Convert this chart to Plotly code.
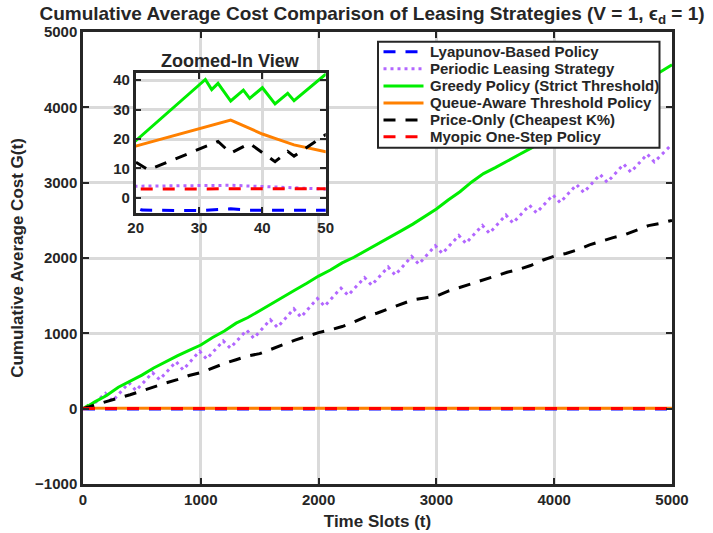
import plotly.graph_objects as go

# ---------------- data ----------------
# Lyapunov-Based Policy
lyap_t = [0, 20, 21, 25, 30, 33, 35, 38, 40, 45, 50, 100, 1000, 2000, 3000, 4000, 5000]
lyap_v = [0, -3.2, -4.1, -4.3, -4.3, -3.9, -3.7, -4.2, -4.3, -4.6, -4.9, -5, -5, -5, -5, -5, -5]

# Periodic Leasing Strategy
per_t = [0, 20, 25, 35, 40, 45, 50, 190, 250, 390, 450, 590, 650, 790, 850, 990, 1050,
         1190, 1250, 1390, 1450, 1590, 1650, 1790, 1850, 1990, 2050, 2190, 2250, 2390, 2450,
         2590, 2650, 2790, 2850, 2990, 3050, 3190, 3250, 3390, 3450, 3590, 3650, 3790, 3850,
         3990, 4050, 4190, 4250, 4390, 4450, 4590, 4650, 4790, 4850, 5000]
per_v = [0, 4.0, 4.1, 4.3, 3.9, 3.4, 3.0, 203, 100, 343, 240, 478, 385, 623, 515, 763, 660,
         900, 805, 1043, 935, 1180, 1080, 1325, 1215, 1463, 1360, 1600, 1505, 1740, 1640,
         1880, 1775, 2020, 1920, 2163, 2060, 2298, 2195, 2433, 2330, 2570, 2465, 2700, 2600,
         2838, 2735, 2975, 2870, 3108, 3005, 3245, 3140, 3378, 3275, 3510]

# Greedy Policy (Strict Threshold)
greedy_t = [0, 20, 31, 32, 33, 35, 37, 38, 40, 42, 44, 45, 50,
            100, 200, 300, 400, 500, 600, 700, 800, 900, 1000,
            1100, 1200, 1300, 1400, 1500, 1600, 1700, 1800, 1900, 2000,
            2100, 2200, 2300, 2400, 2500, 2600, 2700, 2800, 2900, 3000,
            3100, 3200, 3300, 3400, 3500, 3600, 3700, 3800, 3900, 4000,
            4100, 4200, 4300, 4400, 4500, 4600, 4700, 4800, 4900, 5000]
greedy_v = [0, 19.4, 40.2, 36.8, 38.9, 32.9, 36.6, 33.8, 37.4, 31.9, 35.5, 33.0, 42.0,
            90, 175, 285, 360, 445, 540, 625, 700, 775, 845,
            945, 1030, 1135, 1210, 1300, 1395, 1480, 1575, 1665, 1760,
            1840, 1935, 2010, 2095, 2180, 2270, 2360, 2450, 2545, 2650,
            2770, 2880, 3010, 3120, 3200, 3290, 3370, 3455, 3550, 3640,
            3730, 3830, 3920, 4010, 4100, 4200, 4290, 4380, 4470, 4565]

# Queue-Aware Threshold Policy
queue_t = [0, 20, 35, 38, 40, 42, 45, 50, 100, 500, 1000, 2000, 3000, 4000, 5000]
queue_v = [0, 17.6, 26.4, 23.6, 21.7, 20.2, 18.0, 15.7, 10, 6, 5, 5, 5, 5, 5]

# Price-Only (Cheapest K%)
price_t = [0, 20, 22, 33, 35, 38, 42, 44, 45, 50,
           100, 200, 300, 400, 500, 600, 700, 800, 900, 1000,
           1100, 1200, 1300, 1400, 1500, 1600, 1700, 1800, 1900, 2000,
           2100, 2200, 2300, 2400, 2500, 2600, 2700, 2800, 2900, 3000,
           3100, 3200, 3300, 3400, 3500, 3600, 3700, 3800, 3900, 4000,
           4100, 4200, 4300, 4400, 4500, 4600, 4700, 4800, 4900, 5000]
price_v = [0, 12.2, 9.5, 19.2, 15.2, 18.5, 12.3, 15.8, 14.2, 21.5,
           50, 100, 140, 185, 240, 290, 340, 385, 440, 480,
           545, 600, 650, 700, 730, 790, 860, 910, 960, 1010,
           1045, 1090, 1150, 1220, 1270, 1330, 1390, 1445, 1470, 1495,
           1560, 1610, 1660, 1715, 1770, 1810, 1850, 1900, 1970, 2025,
           2060, 2110, 2175, 2225, 2270, 2310, 2370, 2430, 2460, 2500]

# Myopic One-Step Policy
myopic_t = [0, 20, 35, 50, 100, 1000, 2000, 3000, 4000, 5000]
myopic_v = [0, 3.0, 3.1, 2.8, 2.5, 2.2, 2.0, 2.0, 2.0, 2.0]

names = ["Lyapunov-Based Policy", "Periodic Leasing Strategy", "Greedy Policy (Strict Threshold)",
         "Queue-Aware Threshold Policy", "Price-Only (Cheapest K%)", "Myopic One-Step Policy"]

x_ticks = [0, 1000, 2000, 3000, 4000, 5000]
y_ticks = [-1000, 0, 1000, 2000, 3000, 4000, 5000]
inset_x_ticks = [20, 30, 40, 50]
inset_y_ticks = [0, 10, 20, 30, 40]

# ---------------- styling ----------------
W, H = 713, 533
ML, MR, MT, MB = 83, 41, 32, 49
PW, PH = W - ML - MR, H - MT - MB


def px2x(px):
    return (px - ML) / PW


def px2y(py):
    return (H - MB - py) / PH


styles = [
    dict(color="#0000FF", width=3, dash="12px,10px"),
    dict(color="#B266FF", width=3, dash="3px,4px"),
    dict(color="#00EE00", width=3),
    dict(color="#FF8000", width=3),
    dict(color="#000000", width=3, dash="12px,10px"),
    dict(color="#FF0000", width=3, dash="12px,10px"),
]
data = [(lyap_t, lyap_v), (per_t, per_v), (greedy_t, greedy_v),
        (queue_t, queue_v), (price_t, price_v), (myopic_t, myopic_v)]

fig = go.Figure()
for (t, v), ln, nm in zip(data, styles, names):
    fig.add_trace(go.Scatter(x=t, y=v, mode="lines", name=nm, line=ln,
                             xaxis="x", yaxis="y", showlegend=False))
for (t, v), ln, nm in zip(data, styles, names):
    fig.add_trace(go.Scatter(x=t, y=v, mode="lines", name=nm, line=ln,
                             xaxis="x2", yaxis="y2", showlegend=False))

FONT = "Liberation Sans"
TXT = "#262626"
GRID = "#DADADA"

axis_common = dict(
    showgrid=True, gridcolor=GRID, gridwidth=2.5,
    showline=True, linecolor=TXT, linewidth=2.5, mirror="allticks",
    ticks="inside", ticklen=6, tickwidth=2, tickcolor=TXT,
    zeroline=False, automargin=False,
    tickfont=dict(family=FONT, size=15, color=TXT, weight="bold"),
)

# ---- hand-built legend (box, line samples, labels) ----
shapes = [dict(type="rect", xref="paper", yref="paper", layer="above",
               x0=px2x(378), x1=px2x(659.5), y0=px2y(147.7), y1=px2y(41.7),
               fillcolor="white", line=dict(color=TXT, width=2))]
annotations = []
row_py = [51.7, 68.8, 85.9, 103.0, 120.0, 136.8]
for ln, nm, py in zip(styles, names, row_py):
    shapes.append(dict(type="line", xref="paper", yref="paper", layer="above",
                       x0=px2x(383.5), x1=px2x(423.5), y0=px2y(py), y1=px2y(py),
                       line=dict(color=ln["color"], width=ln["width"], dash=ln.get("dash", "solid"))))
    annotations.append(dict(text=nm, xref="paper", yref="paper", x=px2x(428.3), y=px2y(py),
                            xanchor="left", yanchor="middle", showarrow=False,
                            font=dict(family=FONT, size=15, color=TXT, weight="bold")))

annotations.append(dict(
    text="Zoomed-In View", xref="paper", yref="paper",
    x=0.2508, y=px2y(61), xanchor="center", yanchor="middle",
    showarrow=False, font=dict(family=FONT, size=18, color=TXT, weight="bold"),
))

fig.update_layout(
    width=W, height=H,
    margin=dict(l=ML, r=MR, t=MT, b=MB),
    paper_bgcolor="white", plot_bgcolor="white",
    font=dict(family=FONT, color=TXT),
    title=dict(
        text="Cumulative Average Cost Comparison of Leasing Strategies (V = 1, ϵ<sub>d</sub> = 1)",
        font=dict(family=FONT, size=19, color=TXT, weight="bold"),
        x=px2x(372), xref="paper", xanchor="center",
        y=1 - 13 / H, yref="container", yanchor="middle",
    ),
    xaxis=dict(domain=[0, 1], range=[0, 5000], tickvals=x_ticks,
               title=dict(text="Time Slots (t)", standoff=9,
                          font=dict(family=FONT, size=17, color=TXT, weight="bold")),
               **axis_common),
    yaxis=dict(domain=[0, 1], range=[-1000, 5000], tickvals=y_ticks,
               title=dict(text="Cumulative Average Cost G(t)", standoff=8,
                          font=dict(family=FONT, size=17, color=TXT, weight="bold")),
               **axis_common),
    xaxis2=dict(domain=[px2x(135.7), px2x(325.7)], anchor="y2", range=[20, 50],
                tickvals=inset_x_ticks, **axis_common),
    yaxis2=dict(domain=[px2y(212.7), px2y(73.3)], anchor="x2", range=[-5, 42.3],
                tickvals=inset_y_ticks, **axis_common),
    showlegend=False,
    shapes=shapes,
    annotations=annotations,
)

fig.write_html("out.html",
               config={"displayModeBar": False},
               post_script="document.body.style.margin='0px';document.body.style.overflow='hidden';")
